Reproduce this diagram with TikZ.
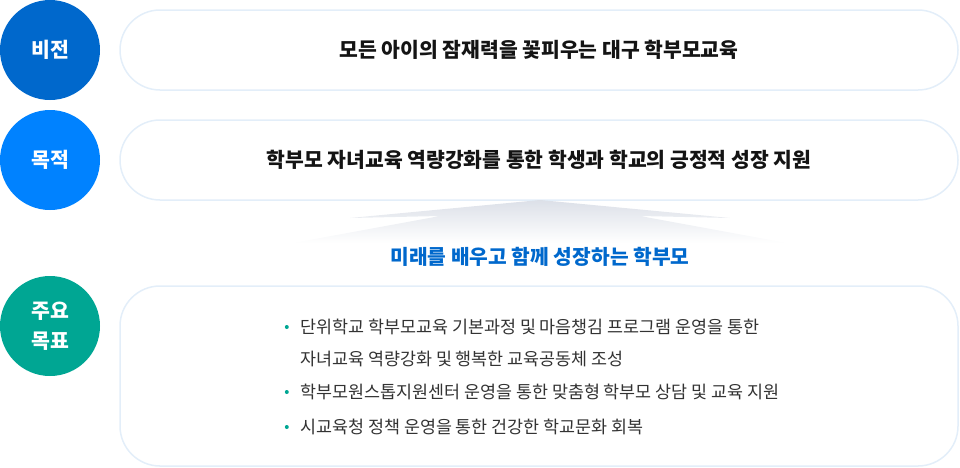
\documentclass[tikz,border=0pt]{standalone}
\usepackage{fontspec}
\setmainfont{Noto Sans CJK KR}
\usetikzlibrary{positioning}
\definecolor{visionblue}{HTML}{0068CC}
\definecolor{purposeblue}{HTML}{0082FF}
\definecolor{goalteal}{HTML}{00A693}
\definecolor{pillline}{HTML}{E3EEF9}
\definecolor{wedgegray}{HTML}{DCE0E8}
\definecolor{itemtext}{HTML}{333333}
\tikzset{badge/.style={circle, minimum size=100pt, inner sep=0pt, text=white, align=center, font=\fontsize{20.5}{30}\selectfont\bfseries},
	pill/.style={draw=pillline, line width=1.5pt, fill=white, rounded corners=40pt, minimum width=838pt, inner sep=0pt},
	headline/.style={font=\fontsize{20.4}{24}\selectfont\bfseries, text=black!92},
	item/.style={anchor=west, inner sep=0pt, text=itemtext, font=\fontsize{17.4}{20}\selectfont},
	itemdot/.style={circle, fill=goalteal, minimum size=4pt, inner sep=0pt}}

\begin{document}
\begin{tikzpicture}[x=1pt,y=-1pt]
	\useasboundingbox (0,0) rectangle (960,467);
	% badges on the left
	\node[badge, fill=visionblue] (vision) at (50,50) {비전};
	\node[badge, fill=purposeblue] (purpose) at (50,160) {목적};
	\node[badge, fill=goalteal] (goals) at (50,326) {주요\\목표};
	% pills
	\node[pill, headline, minimum height=80pt] (visionbox) at (539,50) {모든 아이의 잠재력을 꽃피우는 대구 학부모교육};
	\node[pill, headline, minimum height=80pt] (purposebox) at (539,160) {학부모 자녀교육 역량강화를 통한 학생과 학교의 긍정적 성장 지원};
	\node[pill, minimum height=180pt] (goalbox) at (539,376) {};
	% shaded wedge under the purpose pill
	\shade[top color=wedgegray, bottom color=white] (540,200) -- (350,218) -- (440,216) -- (293,243)
		-- (787,243) -- (640,216) -- (730,218) -- cycle;
	\node[font=\fontsize{20.3}{24}\selectfont\bfseries, text=visionblue] (motto) at (540,257) {미래를 배우고 함께 성장하는 학부모};
	% goal items
	\node[item] (itema) at (300,327) {단위학교 학부모교육 기본과정 및 마음챙김 프로그램 운영을 통한};
	\node[item] (itemb) at (300,359) {자녀교육 역량강화 및 행복한 교육공동체 조성};
	\node[item] (itemc) at (300,392) {학부모원스톱지원센터 운영을 통한 맞춤형 학부모 상담 및 교육 지원};
	\node[item] (itemd) at (300,427) {시교육청 정책 운영을 통한 건강한 학교문화 회복};
	\foreach \n in {itema,itemc,itemd}
		\node[itemdot, left=11pt of \n.west] {};
\end{tikzpicture}
\end{document}
